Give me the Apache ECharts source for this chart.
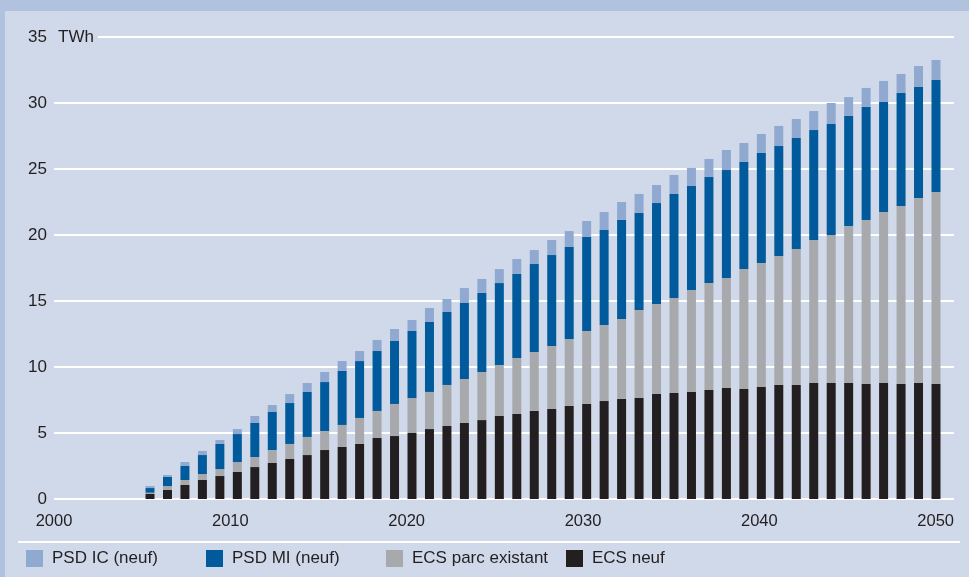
<!DOCTYPE html>
<html>
<head>
<meta charset="utf-8">
<script src="https://cdn.jsdelivr.net/npm/echarts@6/dist/echarts.min.js"></script>
<style>
    html, body { margin: 0; padding: 0; background: #d0d9ea; }
    #chart { width: 969px; height: 577px; }
</style>
</head>
<body>
<div id="chart"></div>
<script>
    // années 2005 -> 2050
    var years = [];
    for (var y = 2005; y <= 2050; y++) years.push(String(y));

    var xTickLabels = ['2000', '2010', '2020', '2030', '2040', '2050'];
    var yTickLabels = ['0', '5', '10', '15', '20', '25', '30', '35'];

    var seriesNames = ['PSD IC (neuf)', 'PSD MI (neuf)', 'ECS parc existant', 'ECS neuf'];

    // TWh
    var ecsNeuf = [0.40, 0.68, 1.06, 1.44, 1.74, 2.05, 2.42, 2.73, 3.03, 3.33,
        3.71, 3.94, 4.17, 4.62, 4.77, 5.00, 5.30, 5.53, 5.76, 5.98,
        6.29, 6.44, 6.67, 6.82, 7.05, 7.20, 7.42, 7.58, 7.65, 7.95,
        8.03, 8.11, 8.26, 8.41, 8.33, 8.48, 8.64, 8.64, 8.79, 8.79,
        8.79, 8.71, 8.79, 8.71, 8.79, 8.71];
    var ecsParc = [0.08, 0.30, 0.38, 0.45, 0.53, 0.75, 0.76, 0.98, 1.14, 1.37,
        1.44, 1.67, 1.97, 2.05, 2.43, 2.65, 2.81, 3.11, 3.33, 3.64,
        3.86, 4.24, 4.47, 4.77, 5.07, 5.53, 5.76, 6.06, 6.67, 6.82,
        7.20, 7.72, 8.10, 8.33, 9.09, 9.40, 9.77, 10.30, 10.83, 11.21,
        11.89, 12.43, 12.95, 13.49, 14.01, 14.55];
    var psdMi = [0.35, 0.69, 1.06, 1.44, 1.90, 2.12, 2.58, 2.88, 3.10, 3.41,
        3.71, 4.09, 4.31, 4.54, 4.77, 5.08, 5.30, 5.53, 5.76, 5.99,
        6.21, 6.37, 6.66, 6.89, 6.97, 7.12, 7.20, 7.50, 7.35, 7.65,
        7.88, 7.88, 8.03, 8.18, 8.11, 8.33, 8.33, 8.41, 8.33, 8.41,
        8.34, 8.56, 8.34, 8.56, 8.41, 8.48];
    var psdIc = [0.15, 0.15, 0.30, 0.31, 0.30, 0.38, 0.53, 0.53, 0.68, 0.68,
        0.76, 0.75, 0.76, 0.84, 0.91, 0.83, 1.06, 0.98, 1.13, 1.06,
        1.06, 1.13, 1.06, 1.14, 1.21, 1.21, 1.36, 1.36, 1.44, 1.37,
        1.44, 1.37, 1.37, 1.52, 1.44, 1.44, 1.52, 1.44, 1.44, 1.59,
        1.43, 1.44, 1.59, 1.44, 1.59, 1.52];

    var colors = ['#8fa9d1', '#005a9c', '#a7a9ac', '#231f20'];
    var textColor = '#231f20';
    var fontFamily = '"Liberation Sans", Arial, sans-serif';

    function barSeries(name, values, color) {
        return {
            name: name,
            type: 'bar',
            stack: 'total',
            xAxisIndex: 1,
            yAxisIndex: 1,
            barWidth: 9,
            itemStyle: { color: color },
            data: values
        };
    }

    function legendAt(left, name) {
        return {
            left: left,
            top: 550,
            padding: 0,
            itemWidth: 17,
            itemHeight: 17,
            icon: 'rect',
            selectedMode: false,
            data: [name],
            textStyle: { color: textColor, fontSize: 17, fontFamily: fontFamily, padding: [0, 0, 0, 4] }
        };
    }

    var chart = echarts.init(document.getElementById('chart'));
    chart.setOption({
        animation: false,
        backgroundColor: '#d0d9ea',
        color: colors,
        graphic: [
            { type: 'rect', left: 0, top: 0, shape: { width: 969, height: 11 }, style: { fill: '#b1c2de' } },
            { type: 'rect', left: 0, top: 0, shape: { width: 5, height: 577 }, style: { fill: '#b1c2de' } },
            // ligne des 35 TWh, après l'unité
            { type: 'rect', left: 98, top: 36, shape: { width: 856, height: 2 }, style: { fill: '#ffffff' } },
            { type: 'rect', left: 18, top: 541, shape: { width: 942, height: 2 }, style: { fill: '#ffffff' } }
        ],
        legend: [
            legendAt(26, seriesNames[0]),
            legendAt(206, seriesNames[1]),
            legendAt(386, seriesNames[2]),
            legendAt(566, seriesNames[3])
        ],
        // grille 0 : graduations ; grille 1 : barres (un peu plus serrées que les années)
        grid: [
            { left: 54, right: 15, top: 37, bottom: 78 },
            { left: 141.27, right: 24.27, top: 37, bottom: 78 }
        ],
        xAxis: [
            {
                type: 'value',
                gridIndex: 0,
                min: 2000,
                max: 2051.04,
                interval: 10,
                axisLine: { show: false },
                axisTick: { show: false },
                splitLine: { show: false },
                axisLabel: {
                    margin: 14,
                    color: textColor,
                    fontSize: 16.5,
                    fontFamily: fontFamily,
                    showMaxLabel: false,
                    formatter: function (v) {
                        var s = String(v);
                        return xTickLabels.indexOf(s) >= 0 ? s : '';
                    }
                }
            },
            {
                type: 'category',
                gridIndex: 1,
                data: years,
                show: false
            }
        ],
        yAxis: [
            {
                type: 'value',
                gridIndex: 0,
                min: 0,
                max: 35,
                interval: 5,
                name: 'TWh',
                nameLocation: 'end',
                nameGap: 0,
                nameTextStyle: {
                    color: textColor,
                    fontSize: 17,
                    fontFamily: fontFamily,
                    align: 'left',
                    verticalAlign: 'middle',
                    padding: [0, 0, 0, 4]
                },
                axisLine: { show: false },
                axisTick: { show: false },
                axisLabel: {
                    margin: 7,
                    color: textColor,
                    fontSize: 17,
                    fontFamily: fontFamily,
                    formatter: function (v) { return yTickLabels[v / 5]; }
                },
                splitLine: {
                    show: true,
                    showMaxLine: false,
                    lineStyle: { color: '#ffffff', width: 2 }
                }
            },
            {
                type: 'value',
                gridIndex: 1,
                min: 0,
                max: 35,
                show: false,
                splitLine: { show: false }
            }
        ],
        series: [
            barSeries(seriesNames[3], ecsNeuf, colors[3]),
            barSeries(seriesNames[2], ecsParc, colors[2]),
            barSeries(seriesNames[1], psdMi, colors[1]),
            barSeries(seriesNames[0], psdIc, colors[0])
        ]
    });
</script>
</body>
</html>
